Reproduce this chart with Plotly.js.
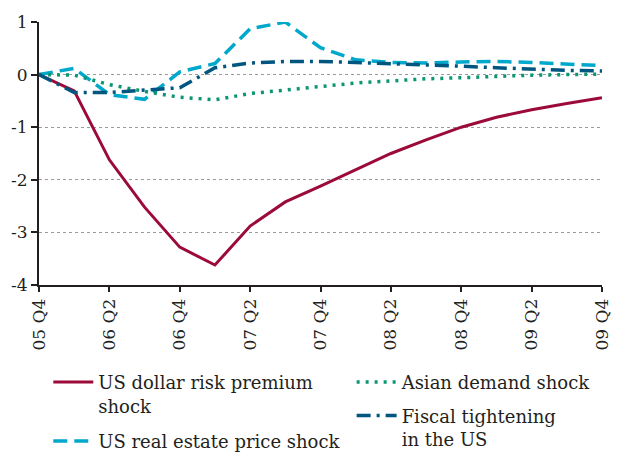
<!DOCTYPE html>
<html>
<head>
<meta charset="utf-8">
<script src="https://cdn.plot.ly/plotly-3.0.1.min.js"></script>
<style>html,body{margin:0;padding:0;background:#fff;}#chart{width:631px;height:457px;}</style>
</head>
<body>
<div id="chart"></div>
<script>
// Quarters (05 Q4 .. 09 Q4)
var quarters = ["05 Q4","06 Q1","06 Q2","06 Q3","06 Q4","07 Q1","07 Q2","07 Q3","07 Q4",
                "08 Q1","08 Q2","08 Q3","08 Q4","09 Q1","09 Q2","09 Q3","09 Q4"];
var tickLabels = ["05 Q4","06 Q2","06 Q4","07 Q2","07 Q4","08 Q2","08 Q4","09 Q2","09 Q4"];

var usDollarRisk   = [0, -0.31, -1.62, -2.52, -3.28, -3.62, -2.88, -2.42, -2.12, -1.81, -1.50, -1.24, -1.00, -0.81, -0.67, -0.55, -0.44];
var usRealEstate   = [0, 0.12, -0.38, -0.47, 0.05, 0.21, 0.87, 1.00, 0.51, 0.28, 0.23, 0.22, 0.24, 0.25, 0.23, 0.20, 0.17];
var asianDemand    = [0, -0.01, -0.19, -0.32, -0.43, -0.48, -0.36, -0.29, -0.22, -0.16, -0.12, -0.08, -0.06, -0.03, -0.01, 0.00, 0.01];
var fiscalTight    = [0, -0.34, -0.34, -0.30, -0.25, 0.13, 0.22, 0.25, 0.25, 0.23, 0.21, 0.19, 0.16, 0.13, 0.10, 0.08, 0.07];

var names = ["US dollar risk premium<br>shock", "US real estate price shock",
             "Asian demand shock", "Fiscal tightening<br>in the US"];

var txt = "#231f20";
var font = "DejaVu Serif";

var traces = [
  {x: quarters, y: usDollarRisk, name: names[0], type: "scatter", mode: "lines",
   line: {color: "#9b0a38", width: 3}, legend: "legend", legendgroup: "g1"},
  {x: quarters, y: usRealEstate, name: names[1], type: "scatter", mode: "lines",
   line: {color: "#00a8cc", width: 3.5, dash: "14px,7px"}, legend: "legend", legendgroup: "g2"},
  {x: quarters, y: asianDemand, name: names[2], type: "scatter", mode: "lines",
   line: {color: "#0a9672", width: 3.5, dash: "3px,6px"}, legend: "legend2", legendgroup: "g3"},
  {x: quarters, y: fiscalTight, name: names[3], type: "scatter", mode: "lines",
   line: {color: "#00567f", width: 3.5, dash: "14px,6px,3px,6px"}, legend: "legend2", legendgroup: "g4"}
];

var layout = {
  width: 631, height: 457,
  margin: {l: 38.5, r: 28.7, t: 22, b: 172, autoexpand: false},
  paper_bgcolor: "#fff", plot_bgcolor: "#fff",
  font: {family: font, color: txt, size: 16},
  showlegend: true,
  xaxis: {
    type: "category", categoryorder: "array", categoryarray: quarters,
    range: [0, 16], tickvals: tickLabels, ticktext: tickLabels, automargin: false,
    tickangle: -90, ticks: "outside", ticklen: 5, tickwidth: 2, tickcolor: txt,
    showline: true, linecolor: txt, linewidth: 2, showgrid: false, zeroline: false,
    tickfont: {family: font, size: 17, color: txt}, fixedrange: true
  },
  yaxis: {
    range: [-4, 1], tickvals: [-4, -3, -2, -1, 0, 1], ticktext: ["-4","-3","-2","-1","0","1"],
    ticks: "outside", ticklen: 6, tickwidth: 2, tickcolor: txt, automargin: false,
    showline: true, linecolor: txt, linewidth: 2, zeroline: false,
    showgrid: true, gridcolor: "#9a9a9a", gridwidth: 1, griddash: "dot",
    tickfont: {family: font, size: 17, color: txt}, fixedrange: true
  },
  legend: {
    x: 0.0165, xanchor: "left", y: -0.30, yanchor: "top",
    orientation: "v", valign: "top", bgcolor: "rgba(0,0,0,0)", tracegroupgap: 9,
    font: {family: font, size: 18, color: txt}, itemwidth: 40, traceorder: "grouped"
  },
  legend2: {
    x: 0.5553, xanchor: "left", y: -0.30, yanchor: "top",
    orientation: "v", valign: "top", bgcolor: "rgba(0,0,0,0)", tracegroupgap: 7,
    font: {family: font, size: 18, color: txt}, itemwidth: 40, traceorder: "grouped"
  }
};

Plotly.newPlot("chart", traces, layout, {displayModeBar: false, staticPlot: true});
</script>
</body>
</html>
